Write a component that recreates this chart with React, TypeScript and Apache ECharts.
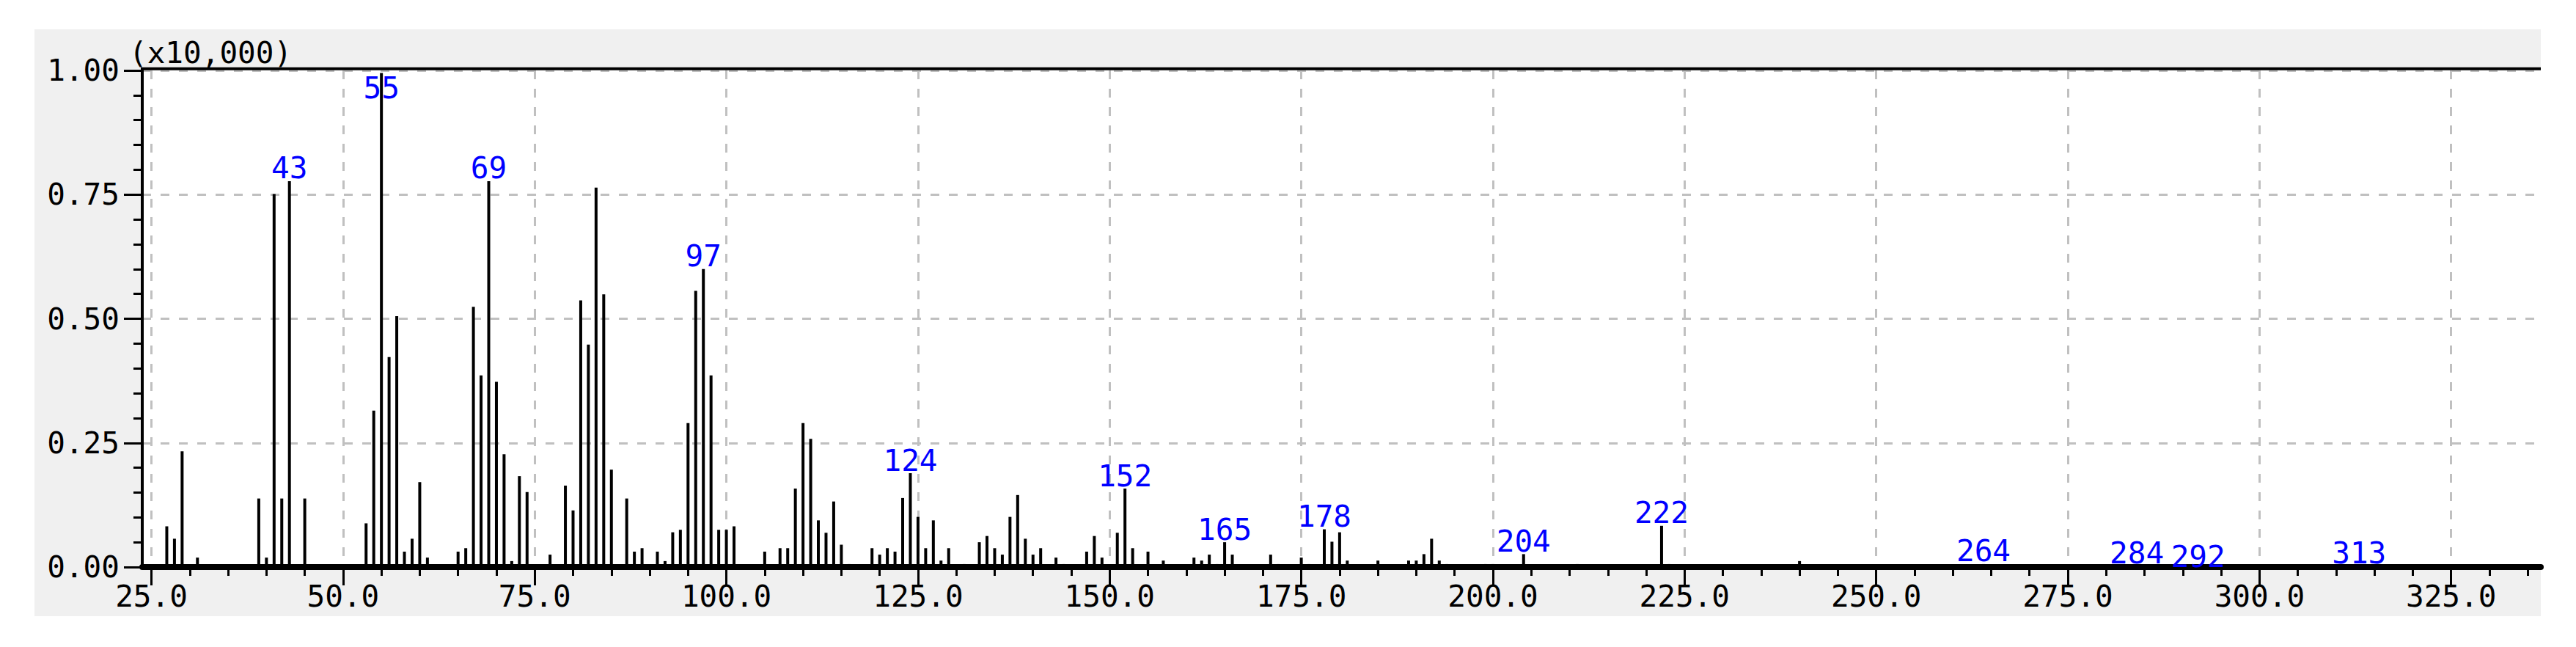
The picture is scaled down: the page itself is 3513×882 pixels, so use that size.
import React, { useEffect, useRef } from "react";
import * as echarts from "echarts";

// m/z values of the spectrum lines
const mzValues = [
  27, 28, 29, 30, 31, 39, 40, 41, 42, 43, 45, 51, 52, 53, 54, 55, 56, 57, 58, 59,
  60, 61, 65, 66, 67, 68, 69, 70, 71, 72, 73, 74, 77, 79, 80, 81, 82, 83, 84, 85,
  86, 87, 88, 89, 91, 92, 93, 94, 95, 96, 97, 98, 99, 100, 101, 103, 105, 107, 108, 109,
  110, 111, 112, 113, 114, 115, 116, 119, 120, 121, 122, 123, 124, 125, 126, 127, 128, 129, 131, 133,
  134, 135, 136, 137, 138, 139, 140, 141, 143, 144, 147, 148, 149, 151, 152, 153, 155, 157, 161, 162,
  163, 164, 165, 166, 171, 172, 175, 176, 178, 179, 180, 181, 185, 189, 190, 191, 192, 193, 194, 199,
  200, 204, 211, 222, 223, 240, 264, 284, 292, 313,
];

// intensities (x10,000)
const intensities = [
  0.082, 0.057, 0.233, 0.005, 0.019, 0.138, 0.019, 0.751, 0.138, 0.777, 0.138, 0.005, 0.005, 0.088, 0.315, 0.995, 0.423, 0.505, 0.031, 0.057,
  0.171, 0.019, 0.031, 0.038, 0.524, 0.386, 0.777, 0.373, 0.227, 0.012, 0.183, 0.151, 0.025, 0.164, 0.114, 0.537, 0.448, 0.764, 0.549, 0.196,
  0.005, 0.138, 0.031, 0.038, 0.031, 0.012, 0.07, 0.075, 0.29, 0.556, 0.6, 0.386, 0.075, 0.075, 0.082, 0.005, 0.031, 0.038, 0.038, 0.158,
  0.29, 0.258, 0.094, 0.069, 0.132, 0.045, 0.006, 0.038, 0.025, 0.038, 0.031, 0.139, 0.189, 0.101, 0.038, 0.094, 0.013, 0.038, 0.006, 0.05,
  0.0625, 0.038, 0.025, 0.101, 0.145, 0.057, 0.025, 0.038, 0.019, 0.006, 0.031, 0.0625, 0.019, 0.069, 0.158, 0.038, 0.031, 0.013, 0.019, 0.013,
  0.025, 0.006, 0.05, 0.025, 0.025, 0.006, 0.019, 0.006, 0.076, 0.051, 0.07, 0.013, 0.013, 0.013, 0.013, 0.026, 0.057, 0.013, 0.006, 0.006,
  0.006, 0.026, 0.006, 0.083, 0.006, 0.012, 0.006, 0.002, 0.0, 0.002,
];

const labeledPeaks = [43, 55, 69, 97, 124, 152, 165, 178, 204, 222, 264, 284, 292, 313];

const xTickValues = [25, 50, 75, 100, 125, 150, 175, 200, 225, 250, 275, 300, 325];
const xMinorTickValues = [
  25, 30, 35, 40, 45, 50, 55, 60, 65, 70, 75, 80, 85, 90, 95, 100, 105, 110, 115, 120,
  125, 130, 135, 140, 145, 150, 155, 160, 165, 170, 175, 180, 185, 190, 195, 200, 205, 210, 215, 220,
  225, 230, 235, 240, 245, 250, 255, 260, 265, 270, 275, 280, 285, 290, 295, 300, 305, 310, 315, 320,
  325, 330, 335,
];
const xMin = 23.8;
const xMax = 336.7;
const yUnitText = "(x10,000)";

const FONT = "DejaVu Sans Mono";
const FS = 41;

export default function App() {
  const ref = useRef<HTMLDivElement>(null);

  useEffect(() => {
    if (!ref.current) return;
    const chart = echarts.init(ref.current, null, { renderer: "svg" });

    const data = mzValues.map((m, i) => {
      const item: any = { value: [m, intensities[i]] };
      if (labeledPeaks.includes(m)) {
        item.label =
          m === 55
            ? { show: true, position: "insideTop", distance: 0 }
            : m === 292
            ? { show: true, position: "top", distance: -3, offset: [0, 3] }
            : { show: true, position: "top", distance: -3 };
      }
      return item;
    });

    const dashed = { color: "#c0c0c0", width: 3, type: [12, 13] as any };

    const option: any = {
      animation: false,
      grid: {
        left: 194,
        right: 48,
        top: 96,
        bottom: 109,
        show: true,
        backgroundColor: "#ffffff",
        borderWidth: 0,
      },
      xAxis: [
        {
          type: "value",
          min: xMin,
          max: xMax,
          position: "bottom",
          axisLine: { show: true, onZero: false, lineStyle: { color: "#000", width: 8 } },
          axisTick: {
            show: true,
            customValues: xTickValues,
            length: 25,
            lineStyle: { color: "#000", width: 3 },
          },
          axisLabel: {
            show: true,
            customValues: xTickValues,
            formatter: (v: number) => v.toFixed(1),
            margin: 19,
            color: "#000",
            fontFamily: FONT,
            fontSize: FS,
          },
          splitLine: { show: true, lineStyle: dashed },
        },
        {
          type: "value",
          min: xMin,
          max: xMax,
          position: "bottom",
          axisLine: { show: false },
          axisTick: {
            show: true,
            customValues: xMinorTickValues,
            length: 12,
            lineStyle: { color: "#000", width: 3 },
          },
          axisLabel: { show: false },
          splitLine: { show: false },
        },
      ],
      yAxis: {
        type: "value",
        min: 0,
        max: 1,
        interval: 0.25,
        name: yUnitText,
        nameLocation: "end",
        nameGap: 4,
        nameTextStyle: {
          fontFamily: FONT,
          fontSize: FS,
          color: "#000",
          align: "left",
          verticalAlign: "bottom",
          padding: [0, 0, 0, -18],
        },
        axisLine: { show: true, lineStyle: { color: "#000", width: 4 } },
        axisTick: { show: true, length: 25, lineStyle: { color: "#000", width: 3 } },
        minorTick: { show: true, splitNumber: 5, length: 12, lineStyle: { color: "#000", width: 3 } },
        axisLabel: {
          formatter: (v: number) => v.toFixed(2),
          margin: 31,
          color: "#000",
          fontFamily: FONT,
          fontSize: FS,
        },
        splitLine: { show: true, lineStyle: dashed },
      },
      series: [
        {
          type: "bar",
          xAxisIndex: 0,
          yAxisIndex: 0,
          barWidth: 4,
          silent: true,
          itemStyle: { color: "#000" },
          label: {
            show: false,
            color: "#0000ff",
            fontFamily: FONT,
            fontSize: FS,
            formatter: (p: any) => String(p.value[0]),
          },
          data,
        },
      ],
      graphic: [
        {
          type: "line",
          shape: { x1: 192, y1: 93.7, x2: 3465, y2: 93.7 },
          style: { stroke: "#000", lineWidth: 4 },
          z: 10,
        },
      ],
    };

    chart.setOption(option);
    return () => chart.dispose();
  }, []);

  return (
    <div style={{ position: "fixed", left: 0, top: 0, width: 3513, height: 882, background: "#ffffff" }}>
      <div
        style={{ position: "absolute", left: 47, top: 40, width: 3418, height: 800, background: "#f0f0f0" }}
      />
      <div ref={ref} style={{ position: "absolute", left: 0, top: 0, width: 3513, height: 882 }} />
    </div>
  );
}
